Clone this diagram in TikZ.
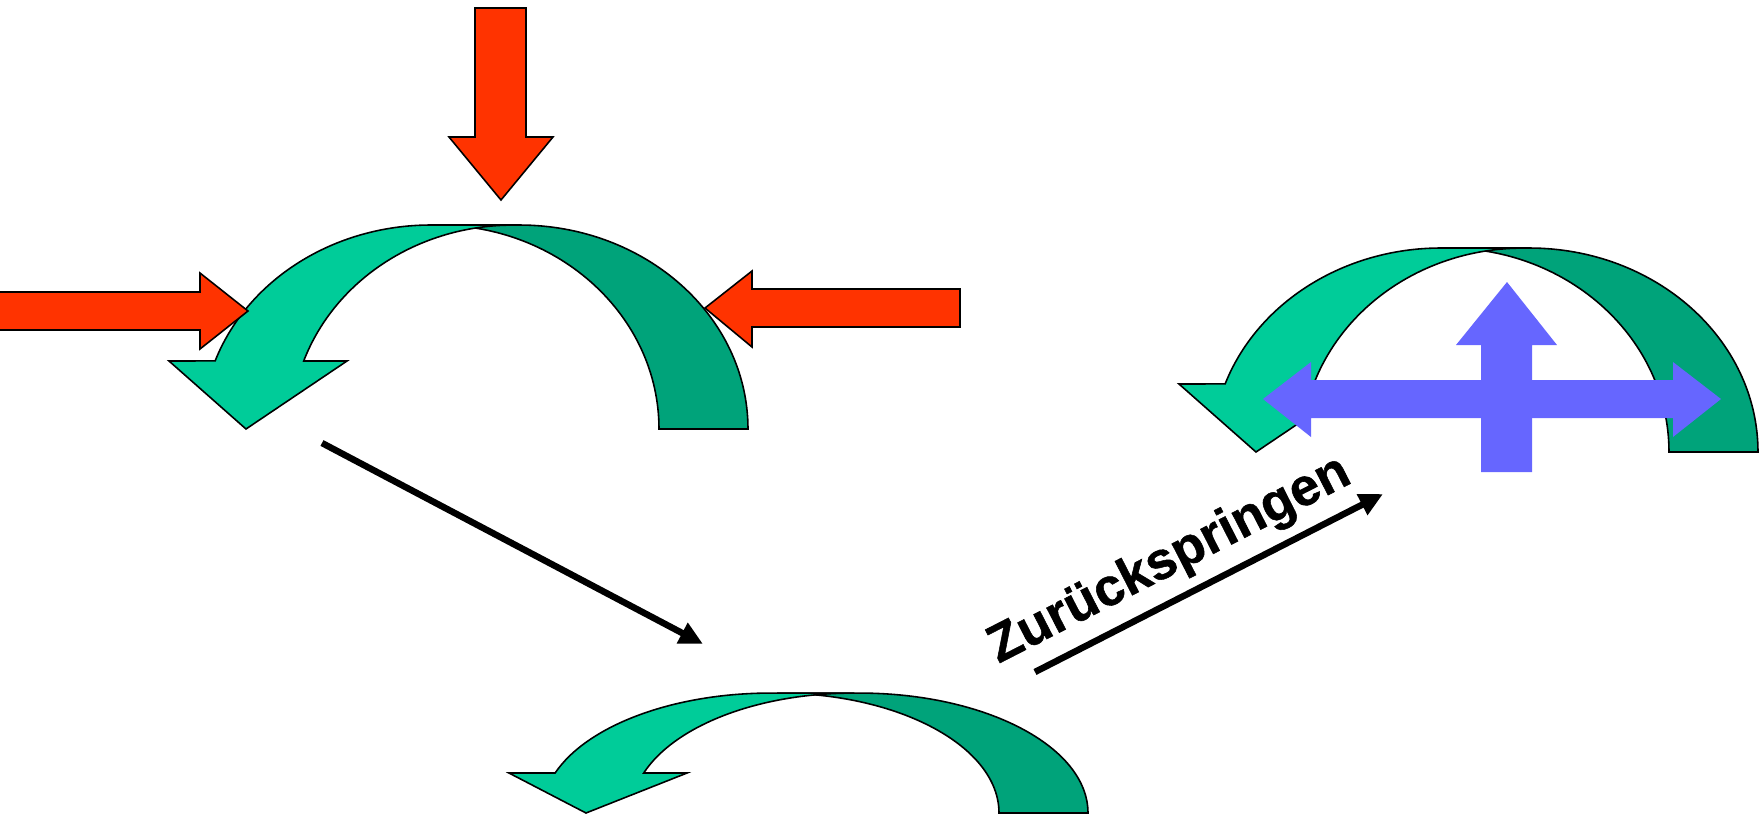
\documentclass[tikz,border=0pt]{standalone}
\usepackage{fontspec}
\setmainfont{Liberation Sans}
\newfontfamily\lblfont[BoldFeatures={FakeBold=1}]{Liberation Sans}
\usetikzlibrary{arrows.meta}
\definecolor{redarrow}{HTML}{FF3300}
\definecolor{lightgreen}{HTML}{00CC99}
\definecolor{darkgreen}{HTML}{00A37A}
\definecolor{bluearrow}{HTML}{6666FF}
\begin{document}
\begin{tikzpicture}[x=0.01cm,y=0.01cm,
  outl/.style={draw=black,line width=0.45pt,line join=miter},
  redblock/.style={outl,fill=redarrow},
  lightband/.style={outl,fill=lightgreen},
  darkband/.style={outl,fill=darkgreen},
  blueblock/.style={fill=bluearrow},
  conn/.style={line width=0.065cm,-{Triangle[length=0.235cm,width=0.22cm]}},
  lbl/.style={font=\lblfont\bfseries\fontsize{15pt}{18pt}\selectfont,inner sep=0pt},
  pics/greenbend/.style={code={
    \path[darkband] (-38,204) -- (44,204)
      arc[start angle=90,end angle=0,x radius=229,y radius=204]
      -- (184,0)
      arc[start angle=0,end angle=90,x radius=222,y radius=204] -- cycle;
    \path[lightband] (38,204) -- (-44,204)
      arc[start angle=90,end angle=160.5,x radius=229,y radius=204]
      -- (-306,68) -- (-229,0) -- (-128,68) -- (-171.3,68)
      arc[start angle=160.5,end angle=90,x radius=222,y radius=204] -- cycle;
  }}]
\useasboundingbox (0,0) rectangle (1762,-814);

% top-left bending arrow
\pic at (475,-429) {greenbend};
% red pressure arrows
\path[redblock] (475,-8) -- (526,-8) -- (526,-137) -- (553,-137) -- (501,-200)
  -- (449,-137) -- (475,-137) -- cycle;
\path[redblock] (-2,-292) -- (200,-292) -- (200,-273) -- (248,-311) -- (200,-349)
  -- (200,-330) -- (-2,-330) -- cycle;
\path[redblock] (960,-289) -- (752,-289) -- (752,-271) -- (705,-308) -- (752,-347)
  -- (752,-327) -- (960,-327) -- cycle;

% bottom flattened arrow
\pic[yscale=0.588] at (815,-813) {greenbend};

% right arrow with blue arrows
\pic at (1485,-452) {greenbend};
\path[blueblock] (1263,-399) -- (1311,-362) -- (1311,-380) -- (1673,-380) -- (1673,-362)
  -- (1721,-399) -- (1673,-437) -- (1673,-418) -- (1311,-418) -- (1311,-437) -- cycle;
\path[blueblock] (1481,-472) -- (1481,-345) -- (1456,-345) -- (1507,-282) -- (1557,-345)
  -- (1532,-345) -- (1532,-472) -- cycle;

% connectors
\coordinate (d1) at (322,-443);
\coordinate (d2) at (703,-644);
\draw[conn] (d1) -- (d2);
\coordinate (u1) at (1035,-672);
\coordinate (u2) at (1383,-494);
\draw[conn] (u1) -- (u2);
\node[lbl,rotate=27.1,anchor=base west] (zt) at (998,-664) {Zurückspringen};
\end{tikzpicture}
\end{document}
